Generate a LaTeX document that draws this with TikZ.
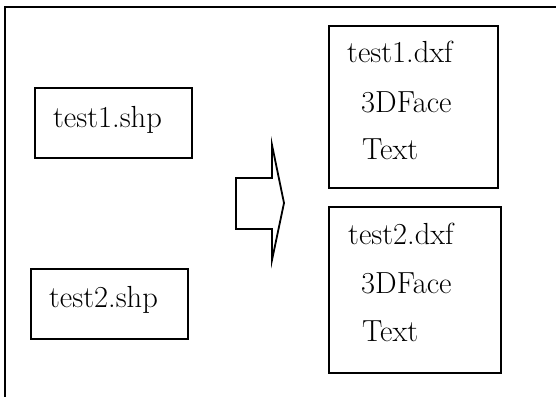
\documentclass[tikz,border=0pt]{standalone}
\begin{document}
\begin{tikzpicture}[x=1pt,y=-1pt,
  box/.style={draw=black, line width=1.9pt, fill=none, inner sep=0pt},
  lbl/.style={anchor=base west, inner sep=0pt, font=\fontsize{30.5}{34}\selectfont}]
\useasboundingbox (0,0) rectangle (556,396);
\clip (0,0) rectangle (556,396);
\fill[white] (0,0) rectangle (556,396);
% outer frame (extends beyond the right and bottom edges)
\draw[line width=2pt] (5,410) -- (5,7) -- (570,7);
% boxes
\node[box, minimum width=157pt, minimum height=70pt] (s1) at (113.5,123) {};
\node[box, minimum width=157pt, minimum height=70pt] (s2) at (109.5,304) {};
\node[box, minimum width=169pt, minimum height=162pt] (d1) at (413.5,107) {};
\node[box, minimum width=172pt, minimum height=166pt] (d2) at (415,290) {};
% labels
\node[lbl] (t1) at (53,127) {test1.shp};
\node[lbl] (t2) at (49,307) {test2.shp};
\node[lbl] (a1) at (347,63) {test1.dxf};
\node[lbl] (a2) at (361,112) {3DFace};
\node[lbl] (a3) at (362,159) {Text};
\node[lbl] (b1) at (348,244) {test2.dxf};
\node[lbl] (b2) at (361,293) {3DFace};
\node[lbl] (b3) at (362,341) {Text};
% block arrow
\draw[line width=1.8pt, line join=miter]
  (236,178) -- (272,178) -- (272,145) -- (284,203) -- (272,260) -- (272,229) -- (236,229) -- cycle;
\end{tikzpicture}
\end{document}
